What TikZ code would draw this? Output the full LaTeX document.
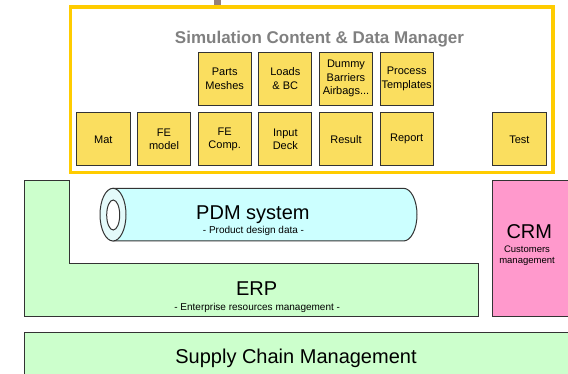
\documentclass[tikz,border=0pt]{standalone}
\usepackage{fontspec}
\setmainfont{Liberation Sans}

\definecolor{frameyellow}{RGB}{255,204,0}
\definecolor{boxyellow}{RGB}{250,222,95}
\definecolor{erpgreen}{RGB}{204,255,204}
\definecolor{pdmcyan}{RGB}{204,255,255}
\definecolor{pdmface}{RGB}{228,250,250}
\definecolor{crmpink}{RGB}{255,153,204}
\definecolor{edgegray}{RGB}{51,51,51}
\definecolor{stubbrown}{RGB}{150,128,120}

\begin{document}
\begin{tikzpicture}[
  x=1pt, y=-1pt,
  box/.style={
    draw=edgegray, line width=1pt, fill=boxyellow,
    minimum width=53.3pt, minimum height=53.3pt, inner sep=0pt,
    align=center, font=\fontsize{11}{13.5}\selectfont
  },
  layer/.style={draw=edgegray, line width=1pt},
  big/.style={font=\fontsize{20}{22}\selectfont, anchor=base},
  note/.style={font=\fontsize{10}{11.5}\selectfont, anchor=base, align=center},
  title/.style={font=\fontsize{17}{18}\selectfont\bfseries, text=gray, anchor=base},
]
  \clip (0,0) rectangle (568,374);
  \def\colstep{60.66}
  \def\rowup{78.8}
  \def\rowlow{139.35}

  % --- Simulation content frame ---
  \fill[stubbrown] (213.5,0) rectangle (221,6);
  \draw[frameyellow, line width=3.5pt] (70.3,7.2) rectangle (553,172.7);
  \node[title] (scdm) at (319.5,43.3) {Simulation Content \& Data Manager};

  % upper row
  \node[box] (parts)   at (103.35+2*\colstep, \rowup) {Parts\\Meshes};
  \node[box] (loads)   at (103.35+3*\colstep, \rowup) {Loads\\\& BC};
  \node[box] (dummy)   at (103.35+4*\colstep, \rowup) {Dummy\\Barriers\\Airbags...};
  \node[box] (process) at (103.35+5*\colstep, \rowup) {Process\\Templates};

  % lower row
  \node[box] (mat)     at (103.35, \rowlow) {Mat};
  \node[box] (femodel) at (103.35+\colstep, \rowlow) {FE\\model};
  \node[box] (fecomp)  at (103.35+2*\colstep, \rowlow) {FE\\Comp.};
  \node[box] (deck)    at (103.35+3*\colstep, \rowlow) {Input\\Deck};
  \node[box] (result)  at (103.35+4*\colstep, \rowlow) {Result};
  \node[box] (report)  at (103.35+5*\colstep, \rowlow) {Report};
  \node[box] (test)    at (519.35, \rowlow) {Test};

  % --- ERP (L shaped) ---
  \filldraw[layer, fill=erpgreen] (24,180.7) -- (69,180.7) -- (69,264) -- (478.3,264)
    -- (478.3,316.7) -- (24,316.7) -- cycle;
  \node[big] (erp) at (256.7,296) {ERP};
  \node[note] (erpnote) at (257.2,310) {- Enterprise resources management -};

  % --- PDM cylinder ---
  \filldraw[layer, fill=pdmcyan] (113,188.3) -- (403.5,188.3)
    arc[start angle=-90, end angle=90, x radius=13.5, y radius=26.35]
    -- (113,241) -- cycle;
  \filldraw[layer, fill=pdmface] (113,214.65) ellipse[x radius=13, y radius=26.35];
  \filldraw[layer, fill=white] (113.2,215) ellipse[x radius=6.5, y radius=15];
  \node[big] (pdm) at (252.9,219.3) {PDM system};
  \node[note] (pdmnote) at (253.5,234) {- Product design data -};

  % --- CRM ---
  \filldraw[layer, fill=crmpink] (492.7,180.7) rectangle (590,316.7);
  \node[big] (crm) at (529.3,238.3) {CRM};
  \node[note, font=\fontsize{9.5}{11.8}\selectfont] (crmnote) at (527,264) {Customers\\management};

  % --- Supply chain ---
  \filldraw[layer, fill=erpgreen] (24,332.3) rectangle (590,400);
  \node[big] (scm) at (296,363.3) {Supply Chain Management};
\end{tikzpicture}
\end{document}
